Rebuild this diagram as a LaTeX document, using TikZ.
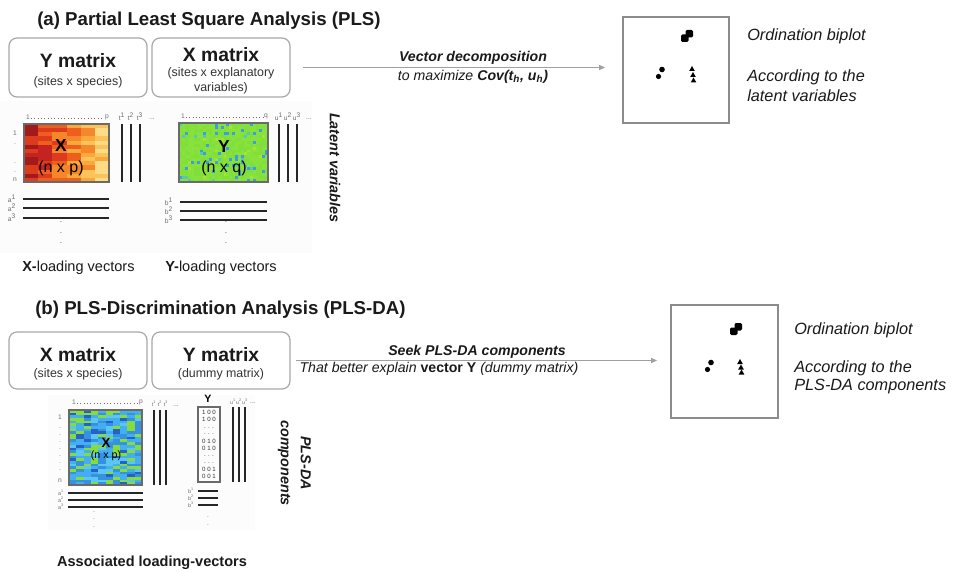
\documentclass[tikz,border=0pt]{standalone}
\usepackage{fontspec}
\setmainfont{Liberation Sans}
\usetikzlibrary{arrows.meta}

% frame and text colours
\definecolor{boxgray}{HTML}{A8A8A8}
\definecolor{plotgray}{HTML}{8C8C8C}
\definecolor{arrgray}{HTML}{A0A0A0}
\definecolor{ink}{HTML}{1A1A1A}
\definecolor{subink}{HTML}{333333}
\definecolor{labgray}{HTML}{6E6E6E}
\definecolor{panel}{HTML}{FCFCFC}
\definecolor{hmframe}{HTML}{6A6A6A}
% red-yellow scale
\definecolor{hx0}{HTML}{A31A1A}
\definecolor{hx1}{HTML}{C52222}
\definecolor{hx2}{HTML}{DD3B1E}
\definecolor{hx3}{HTML}{EE5F1E}
\definecolor{hx4}{HTML}{F5862A}
\definecolor{hx5}{HTML}{F9A83C}
\definecolor{hx6}{HTML}{FBC35A}
\definecolor{hx7}{HTML}{FDDC88}
% green map with blue streaks
\definecolor{hyB}{HTML}{3C9CE6}
\definecolor{hyC}{HTML}{5CC8A8}
\definecolor{hyD}{HTML}{A8E232}
\definecolor{hyG1}{HTML}{82DE3A}
\definecolor{hyG2}{HTML}{88E23C}
% blue map with green streaks
\definecolor{hbG}{HTML}{86DC3C}
\definecolor{hbD}{HTML}{2462C8}
\definecolor{hbM}{HTML}{3492E0}
\definecolor{hbL}{HTML}{44AEEE}
\definecolor{hbP}{HTML}{5CC6F2}

\tikzset{
  matbox/.style={draw=boxgray, line width=0.9pt, rounded corners=6pt, inner sep=0pt},
  plotbox/.style={draw=plotgray, line width=0.9pt, inner sep=0pt},
  title/.style={font=\fontsize{14}{16}\selectfont\bfseries, text=ink, anchor=base west, inner sep=0pt},
  bigname/.style={font=\fontsize{14.5}{17}\selectfont\bfseries, text=ink, inner sep=0pt},
  subname/.style={font=\fontsize{9.3}{11.25}\selectfont, text=subink, inner sep=0pt},
  arrtext/.style={font=\fontsize{10.6}{12}\selectfont\itshape, text=ink, inner sep=0pt},
  side/.style={font=\fontsize{12.2}{14}\selectfont\itshape, text=ink, anchor=west, inner sep=0pt},
  caption/.style={font=\fontsize{10.9}{13}\selectfont, text=ink, inner sep=0pt},
  vec/.style={line width=1.9pt, line cap=butt, black!85},
  tinylab/.style={font=\fontsize{5}{6}\selectfont, text=labgray, inner sep=0pt},
  arr/.style={draw=arrgray, line width=0.8pt, -{Triangle[length=4.5pt,width=3.8pt]}},
  hmborder/.style={draw=hmframe, line width=1pt},
}

\begin{document}
\begin{tikzpicture}[x=0.75pt,y=-0.75pt]
\useasboundingbox[fill=white] (0,0) rectangle (955,573);

% light panels behind the matrices
\fill[panel] (0,101) rectangle (312,253);
\fill[panel] (48,395) rectangle (255,530);

% ---------------- (a) PLS ----------------
\node[title] (ta) at (37,25.5) {(a) Partial Least Square Analysis (PLS)};

\node[matbox, minimum width=103.5pt, minimum height=44.25pt] (ya) at (78,67.5) {};
\node[matbox, minimum width=103.5pt, minimum height=44.25pt] (xa) at (221,67.5) {};
\node[bigname] (yan) at (78,61) {Y matrix};
\node[subname] (yas) at (78,82) {(sites x species)};
\node[bigname] (xan) at (221,55) {X matrix};
\node[subname, align=center] (xas) at (221,80.5) {(sites x explanatory\\variables)};

\node[plotbox, minimum size=79.5pt] (pa) at (676,70) {};
\draw[arr, shorten <=9pt, shorten >=13pt] (xa.east) -- (xa.east -| pa.west);
\node[arrtext] (la1) at (473,58) {\bfseries Vector decomposition};
\node[arrtext] (la2) at (473,77) {to maximize \textbf{Cov(t\textsubscript{h}, u\textsubscript{h})}};

\node[side] (sa1) at (747,36) {Ordination biplot};
\node[side] (sa2) at (747,77) {According to the};
\node[side] (sa3) at (747,96) {latent variables};

% biplot marks (a)
\begin{scope}
  \fill[rounded corners=1pt] (681,34.5) rectangle (688.5,42);
  \fill[rounded corners=1pt] (685.5,30) rectangle (693,37.5);
  \fill (662,69.5) circle (2.8);
  \fill (658.5,76.5) circle (2.6);
  \fill (692,66) -- (694.8,71) -- (689.2,71) -- cycle;
  \fill (693,72) -- (695.8,77) -- (690.2,77) -- cycle;
  \fill (693.5,77.5) -- (696.3,82.5) -- (690.7,82.5) -- cycle;
\end{scope}

% X heatmap (n x p), red-yellow
\pgfmathsetseed{12}
\foreach \c in {0,...,5}{
  \foreach \r in {0,...,13}{
    \pgfmathrandominteger{\k}{0}{2}
    \pgfmathtruncatemacro{\idx}{\c+\k}
    \fill[hx\idx] ({24+\c*85/6},{124+\r*58/14}) rectangle ++({85/6+0.3},{58/14+0.3});
  }
}
\draw[hmborder] (24,124) rectangle (109,182);
\node[font=\fontsize{13}{15}\selectfont\bfseries, inner sep=0pt] (xal) at (61,146) {X};
\node[font=\fontsize{12}{14}\selectfont, inner sep=0pt] (xad) at (61,168) {(n x p)};

% Y heatmap (n x q), green with fine blue streaks
\foreach \c in {0,...,29}{
  \foreach \r in {0,...,19}{
    \pgfmathrandominteger{\k}{0}{29}
    \ifnum\k<2 \def\cc{hyB}\else\ifnum\k<3 \def\cc{hyC}\else\ifnum\k<4 \def\cc{hyD}\else
      \ifodd\k \def\cc{hyG1}\else\def\cc{hyG2}\fi\fi\fi\fi
    \fill[\cc] ({179+\c*89/30},{123+\r*59/20}) rectangle ++({89/30+0.3},{59/20+0.3});
  }
}
\draw[hmborder] (179,123) rectangle (268,182);
\node[font=\fontsize{13}{15}\selectfont\bfseries, inner sep=0pt] (yal) at (224,147) {Y};
\node[font=\fontsize{12}{14}\selectfont, inner sep=0pt] (yad) at (224,168) {(n x q)};

% column / row indices (a)
\node[tinylab] (xa1) at (28,117) {1};
\node[tinylab] (xap) at (107,117) {p};
\draw[labgray, line width=0.5pt, dotted] (31,118) -- (104,118);
\node[tinylab] (ya1) at (183,116) {1};
\node[tinylab] (yaq) at (266,116) {q};
\draw[labgray, line width=0.5pt, dotted] (186,117) -- (263,117);
\node[tinylab] (ra1) at (15,133) {1};
\foreach \yy [count=\i] in {144,163,172}{
  \node[tinylab] (rad\i) at (15,\yy) {.};
}
\node[tinylab] (ran) at (15,180) {n};

% latent vectors t and u
\foreach \xx/\s [count=\i] in {122/1,131/2,140/3}{
  \draw[vec] (\xx,124) -- (\xx,182);
  \node[tinylab] (tl\i) at (\xx,117) {t\textsuperscript{\s}};
}
\node[tinylab] (tld) at (152,119) {...};
\foreach \xx/\s [count=\i] in {279/1,288/2,297/3}{
  \draw[vec] (\xx,124) -- (\xx,182);
  \node[tinylab] (ul\i) at (\xx,117) {u\textsuperscript{\s}};
}
\node[tinylab] (uld) at (309,119) {...};

% loading vectors a and b
\foreach \yy/\s [count=\i] in {199/1,208/2,218/3}{
  \draw[vec] (23,\yy) -- (109,\yy);
  \node[tinylab] (al\i) at (12,\yy) {a\textsuperscript{\s}};
}
\foreach \yy/\s [count=\i] in {202/1,211/2,220/3}{
  \draw[vec] (180,\yy) -- (267,\yy);
  \node[tinylab] (bl\i) at (169,\yy) {b\textsuperscript{\s}};
}
\foreach \yy [count=\i] in {222,233,243}{
  \node[tinylab, text=black] (xdot\i) at (61,\yy) {.};
  \node[tinylab, text=black] (ydot\i) at (226,\yy) {.};
}

\node[font=\fontsize{10.8}{13}\selectfont\bfseries\itshape, text=ink, rotate=-90, inner sep=0pt] (lat) at (335,168) {Latent variables};
\node[caption, anchor=west] (xlv) at (22,268) {\textbf{X-}loading vectors};
\node[caption, anchor=west] (ylv) at (165,268) {\textbf{Y-}loading vectors};

% ---------------- (b) PLS-DA ----------------
\node[title] (tb) at (35,315) {(b) PLS-Discrimination Analysis (PLS-DA)};

\node[matbox, minimum width=103.5pt, minimum height=42.75pt] (xb) at (78,360.5) {};
\node[matbox, minimum width=103.5pt, minimum height=42.75pt] (yb) at (221,360.5) {};
\node[bigname] (xbn) at (78,355) {X matrix};
\node[subname] (xbs) at (78,374) {(sites x species)};
\node[bigname] (ybn) at (221,355) {Y matrix};
\node[subname] (ybs) at (221,374) {(dummy matrix)};

\node[plotbox, minimum width=80.25pt, minimum height=84.75pt] (pb) at (724.5,361.5) {};
\draw[arr, shorten <=4pt, shorten >=10pt] (yb.east) -- (yb.east -| pb.west);
\node[arrtext] (lb1) at (477,352) {\bfseries Seek PLS-DA components};
\node[arrtext] (lb2) at (439,369) {That better explain \textbf{\upshape vector Y} (dummy matrix)};

\node[side] (sb1) at (794,330) {Ordination biplot};
\node[side] (sb2) at (794,368) {According to the};
\node[side] (sb3) at (794,387) {PLS-DA components};

% biplot marks (b)
\begin{scope}[shift={(49,293)}]
  \fill[rounded corners=1pt] (681,34.5) rectangle (688.5,42);
  \fill[rounded corners=1pt] (685.5,30) rectangle (693,37.5);
  \fill (662,69.5) circle (2.8);
  \fill (658.5,76.5) circle (2.6);
  \fill (691,66) -- (693.8,71) -- (688.2,71) -- cycle;
  \fill (692,71.5) -- (694.8,76.5) -- (689.2,76.5) -- cycle;
  \fill (692.5,76.5) -- (695.3,81.5) -- (689.7,81.5) -- cycle;
\end{scope}

% X heatmap (n x p), blue with green streaks
\foreach \c in {0,...,9}{
  \foreach \r in {0,...,27}{
    \pgfmathrandominteger{\k}{0}{9}
    \ifnum\k<2 \def\cc{hbG}\else\ifnum\k<3 \def\cc{hbD}\else\ifnum\k<5 \def\cc{hbM}\else
      \ifnum\k<8 \def\cc{hbL}\else\def\cc{hbP}\fi\fi\fi\fi
    \fill[\cc] ({69+\c*73/10},{410+\r*75/28}) rectangle ++({73/10+0.3},{75/28+0.3});
  }
}
\draw[hmborder] (69,410) rectangle (142,485);
\node[font=\fontsize{10}{12}\selectfont\bfseries, inner sep=0pt] (xbl) at (106,443) {X};
\node[font=\fontsize{8}{10}\selectfont, inner sep=0pt] (xbd) at (106,456) {(n x p)};

% dummy response matrix Y
\node[font=\fontsize{8}{10}\selectfont\bfseries, inner sep=0pt] (ybl) at (208,399) {Y};
\draw[hmborder] (198,407) rectangle (220,482);
\foreach \txt/\yy [count=\i] in {{1 0 0}/412,{1 0 0}/419,{. . .}/428,{. . .}/434,{0 1 0}/441,{0 1 0}/448,{. . .}/456,{. . .}/463,{0 0 1}/469,{0 0 1}/476}{
  \node[font=\fontsize{4.6}{5}\selectfont, text=subink, inner sep=0pt] (dm\i) at (209,\yy) {\txt};
}

% column / row indices (b)
\node[tinylab] (xb1) at (74,402) {1};
\node[tinylab] (xbp) at (141,402) {p};
\draw[labgray, line width=0.5pt, dotted] (77,403) -- (138,403);
\node[tinylab] (rb1) at (60,417) {1};
\foreach \i in {1,...,7}{
  \node[tinylab] (rbd\i) at (60,{421+\i*7}) {.};
}
\node[tinylab] (rbn) at (60,481) {n};

% latent components t and u (b)
\foreach \xx/\s [count=\i] in {154/1,160/2,166/3}{
  \draw[line width=1.6pt, black!85] (\xx,410) -- (\xx,485);
  \node[tinylab, font=\fontsize{4}{5}\selectfont] (tbl\i) at (\xx,404) {t\textsuperscript{\s}};
}
\node[tinylab] (tbld) at (176,406) {...};
\foreach \xx/\s [count=\i] in {233/1,239/2,245/3}{
  \draw[line width=1.6pt, black!85] (\xx,407) -- (\xx,482);
  \node[tinylab, font=\fontsize{4}{5}\selectfont] (ubl\i) at (\xx,402) {u\textsuperscript{\s}};
}
\node[tinylab] (ubld) at (253,403) {...};

% loading vectors (b)
\foreach \yy/\s [count=\i] in {493/1,500/2,507/3}{
  \draw[line width=1.6pt, black!85] (68,\yy) -- (143,\yy);
  \node[tinylab, font=\fontsize{4}{5}\selectfont] (abl\i) at (61,\yy) {a\textsuperscript{\s}};
}
\foreach \yy/\s [count=\i] in {491/1,498/2,505/3}{
  \draw[line width=1.6pt, black!85] (198,\yy) -- (218,\yy);
  \node[tinylab, font=\fontsize{4}{5}\selectfont] (bbl\i) at (191,\yy) {b\textsuperscript{\s}};
}
\foreach \yy [count=\i] in {512,519,527}{
  \node[tinylab] (xbdot\i) at (94,\yy) {.};
}
\foreach \yy [count=\i] in {517,525}{
  \node[tinylab] (ybdot\i) at (208,\yy) {.};
}

\node[font=\fontsize{10.8}{15}\selectfont\bfseries\itshape, text=ink, rotate=-90, align=center, inner sep=0pt] (plsc) at (294.5,463) {PLS-DA\\components};
\node[caption, font=\fontsize{10.9}{13}\selectfont\bfseries] (alv) at (152,563) {Associated loading-vectors};

\end{tikzpicture}
\end{document}
